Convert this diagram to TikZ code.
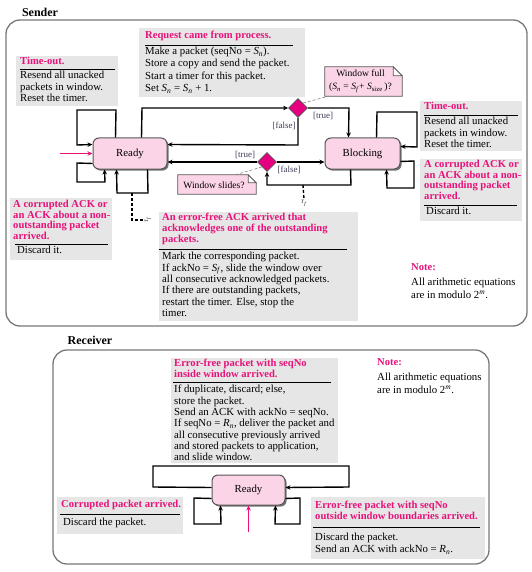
\documentclass[tikz,border=0pt]{standalone}
\usepackage{fontspec}
\setmainfont{Liberation Serif}
\usetikzlibrary{shapes.geometric,shadows,calc,arrows.meta}
\definecolor{ttl}{RGB}{232,18,122}
\definecolor{gbx}{RGB}{230,230,230}
\definecolor{stf}{RGB}{251,213,231}
\definecolor{dia}{RGB}{228,0,126}
\definecolor{bdr}{RGB}{85,85,85}
\definecolor{frm}{RGB}{120,120,120}
\definecolor{lbl}{RGB}{60,60,85}
\newcommand{\Sub}[2]{\textit{#1}\textsubscript{\textit{#2}}}
\begin{document}
\begin{tikzpicture}[x=1pt,y=-1pt,
  gbox/.style={fill=gbx, draw=none, inner sep=0pt, anchor=north west},
  ttlt/.style={text=ttl, font=\bfseries\fontsize{10.6}{#1}\selectfont, align=left, inner sep=0pt, anchor=north west},
  ttlt/.default=10.8,
  bodyt/.style={font=\fontsize{10.8}{#1}\selectfont, align=left, inner sep=0pt, anchor=north west},
  bodyt/.default=11.6,
  hr/.style={line width=0.9pt, black},
  stnode/.style={rectangle, rounded corners=6pt, fill=stf, draw=bdr, line width=1pt, inner sep=0pt,
     font=\fontsize{10.8}{12}\selectfont,
     drop shadow={shadow xshift=1.6pt, shadow yshift=-1.6pt, fill=black!55, opacity=1}},
  dec/.style={diamond, fill=dia, draw=bdr, line width=0.8pt, minimum width=19pt, minimum height=19pt, inner sep=0pt, aspect=1},
  tr/.style={line width=1.4pt, -{Stealth[length=5pt,width=4.5pt]}},
  ptr/.style={line width=1.5pt, draw=ttl, -{Stealth[length=5pt,width=4.5pt]}},
  lbltxt/.style={font=\fontsize{9}{10}\selectfont, text=lbl, inner sep=0pt},
  outerframe/.style={draw=frm, line width=1.3pt, rounded corners=14pt},
  notebx/.style={fill=stf, draw=bdr, line width=0.8pt},
  dotc/.style={densely dashed, draw=gray, line width=0.6pt},
  dsh/.style={line width=1.4pt, dash pattern=on 3pt off 2pt}
]
\useasboundingbox (0,0) rectangle (531,572);

% ---------------- Sender ----------------
\node[font=\bfseries\fontsize{12}{13}\selectfont, inner sep=0pt] (sendlbl) at (40,12) {Sender};
\draw[outerframe] (6,20) rectangle (527,326);

% gray boxes
\node[gbox, minimum width=102pt, minimum height=50pt] (tol) at (16,56) {};
\node[gbox, minimum width=166pt, minimum height=69pt] (req) at (139,28) {};
\node[gbox, minimum width=102pt, minimum height=50pt] (tor) at (420,101) {};
\node[gbox, minimum width=102pt, minimum height=62pt] (cor) at (420,159) {};
\node[gbox, minimum width=102pt, minimum height=62pt] (col) at (10,198) {};
\node[gbox, minimum width=199pt, minimum height=109pt] (efa) at (159,212) {};

% time-out left
\node[ttlt] (tolt) at (20,57) {Time-out.};
\draw[hr] (20,69) -- (115,69);
\node[bodyt=11.5] (tolb) at (20,71) {Resend all unacked\\packets in window.\\Reset the timer.};

% request
\node[ttlt] (reqt) at (145,31) {Request came from process.};
\draw[hr] (145,45) -- (293,45);
\node[bodyt=12.3] (reqb) at (145,47) {Make a packet (seqNo = \Sub{S}{n}).\\Store a copy and send the packet.\\Start a timer for this packet.\\Set \Sub{S}{n} = \Sub{S}{n} + 1.};

% time-out right
\node[ttlt] (tort) at (424,102) {Time-out.};
\draw[hr] (424,115) -- (518,115);
\node[bodyt=11.5] (torb) at (424,117) {Resend all unacked\\packets in window.\\Reset the timer.};

% corrupted right
\node[ttlt=10.7] (cort) at (424,160) {A corrupted ACK or\\an ACK about a non-\\outstanding packet\\arrived.};
\draw[hr] (424,205) -- (517,205);
\node[bodyt] (corb) at (426,207) {Discard it.};

% corrupted left
\node[ttlt=10.7] (colt) at (13,200) {A corrupted ACK or\\an ACK about a non-\\outstanding packet\\arrived.};
\draw[hr] (15,244) -- (108,244);
\node[bodyt] (colb) at (17,246) {Discard it.};

% error-free ack
\node[ttlt=11] (efat) at (162,213) {An error-free ACK arrived that\\acknowledges one of the outstanding\\packets.};
\draw[hr] (159,249) -- (347,249);
\node[bodyt=11.4] (efab) at (162,252) {Mark the corresponding packet.\\If ackNo = \Sub{S}{f}, slide the window over\\all consecutive acknowledged packets.\\If there are outstanding packets,\\restart the timer. Else, stop the\\timer.};

% note sender
\node[ttlt] (snt) at (411,263) {Note:};
\node[bodyt=13] (snb) at (411,278) {All arithmetic equations\\are in modulo 2\textsuperscript{\textit{m}}.};

% states
\node[stnode, minimum width=74pt, minimum height=31pt] (ready) at (130,153.5) {Ready};
\node[stnode, minimum width=75pt, minimum height=31pt] (blocking) at (362.5,153.5) {Blocking};
\node[dec] (d1) at (298,108) {};
\node[dec] (d2) at (267,162) {};

% notes with folded corner
\path (363.5,81.5) node[minimum width=77pt, minimum height=29pt, inner sep=0pt] (wf) {};
\draw[notebx] (wf.south west) -- (wf.north west) -- ($(wf.north east)+(-9,0)$) -- ($(wf.north east)+(0,9)$) -- (wf.south east) -- cycle;
\draw[notebx, fill=white] ($(wf.north east)+(-9,0)$) -- ($(wf.north east)+(-9,9)$) -- ($(wf.north east)+(0,9)$) -- cycle;
\node[font=\fontsize{9.6}{13}\selectfont, align=center, inner sep=0pt] (wft) at ($(wf.center)+(-3,0)$) {Window full\\(\Sub{S}{n} = \Sub{S}{f}+ \textit{S}\textsubscript{size}\,)?};

\path (217,184.5) node[minimum width=78pt, minimum height=19pt, inner sep=0pt] (ws) {};
\draw[notebx] (ws.south west) -- (ws.north west) -- ($(ws.north east)+(-8,0)$) -- ($(ws.north east)+(0,8)$) -- (ws.south east) -- cycle;
\draw[notebx, fill=white] ($(ws.north east)+(-8,0)$) -- ($(ws.north east)+(-8,8)$) -- ($(ws.north east)+(0,8)$) -- cycle;
\node[font=\fontsize{9.6}{11}\selectfont, inner sep=0pt] (wst) at ($(ws.center)+(-3,0.5)$) {Window slides?};

\draw[dotc] (d1.north east) -- ($(wf.south west)+(4,0)$);
\draw[dotc] (d2.south west) -- ($(ws.north east)+(-21,0)$);

% transitions sender
\draw[ptr] (60,153.5) -- (ready.west);
\draw[tr] ($(ready.north west)+(23,0)$) -- (116,110) -- (77,110) -- (77,145) -- ($(ready.north west)+(0,7)$);
\draw[tr] ($(ready.south west)+(0,-6)$) -- (77,163) -- (77,182) -- (105,182) -- ($(ready.south west)+(12,0)$);
\draw[tr] ($(ready.south west)+(55,0)$) -- (148,193) -- (117,193) -- ($(ready.south west)+(24,0)$);
\draw[tr] ($(ready.north west)+(49,0)$) -- (142,108) -- (d1.west);
\draw[tr] (d1.south) -- (298,145) -- ($(ready.north east)+(0,7)$);
\draw[tr] (d1.east) -- (349,108) -- ($(blocking.north west)+(24,0)$);
\draw[tr] (d2.west) -- ($(ready.south east)+(0,-7.5)$);
\draw[tr] (d2.east) -- ($(blocking.south west)+(0,-7.5)$);
\draw[tr] ($(blocking.south west)+(26,0)$) -- (351,185) -- (267,185) -- (d2.south);
\draw[tr] ($(blocking.north west)+(52,0)$) -- (377,112) -- (417,112) -- (417,147) -- ($(blocking.north east)+(0,9)$);
\draw[tr] ($(blocking.south east)+(0,-8)$) -- (414,161) -- (414,188) -- (387,188) -- ($(blocking.south west)+(62,0)$);

\node[lbltxt] (l1) at (323,116) {[true]};
\node[lbltxt] (l2) at (284,126) {[false]};
\node[lbltxt] (l3) at (245,155) {[true]};
\node[lbltxt] (l4) at (289,170) {[false]};

% dashed annotation links
\coordinate (la) at (132,193);
\node[font=\fontsize{5}{5}\selectfont, inner sep=0.3pt, rotate=90] (mk1) at (148,220) {\textit{T}\textsubscript{\textit{f}}};
\draw[dsh] (la) -- (132,220) -- (mk1.north);
\coordinate (lc) at (303,185);
\node[font=\fontsize{5}{5}\selectfont, inner sep=0.3pt] (mk2) at (304,203) {\textit{T}\textsubscript{\textit{f}}};
\draw[dsh] (lc) -- (mk2.north);

% ---------------- Receiver ----------------
\node[font=\bfseries\fontsize{12}{13}\selectfont, inner sep=0pt] (recvlbl) at (90,340) {Receiver};
\draw[outerframe] (53,350) rectangle (489,564);

\node[gbox, minimum width=167pt, minimum height=105pt] (rin) at (171,358) {};
\node[gbox, minimum width=126pt, minimum height=37pt] (rcp) at (57,497) {};
\node[gbox, minimum width=174pt, minimum height=62pt] (rout) at (311,497) {};

\node[ttlt=11] (rint) at (174,359) {Error-free packet with seqNo\\inside window arrived.};
\draw[hr] (173,382) -- (331,382);
\node[bodyt=11.3] (rinb) at (174,385) {If duplicate, discard; else,\\store the packet.\\Send an ACK with ackNo = seqNo.\\If seqNo = \Sub{R}{n}, deliver the packet and\\all consecutive previously arrived\\and stored packets to application,\\and slide window.};

\node[ttlt] (rnt) at (377,358) {Note:};
\node[bodyt=13] (rnb) at (377,373) {All arithmetic equations\\are in modulo 2\textsuperscript{\textit{m}}.};

\node[ttlt] (rcpt) at (61,500) {Corrupted packet arrived.};
\draw[hr] (60,514) -- (180,514);
\node[bodyt] (rcpb) at (63,518) {Discard the packet.};

\node[ttlt=10.5] (routt) at (315,501) {Error-free packet with seqNo\\outside window boundaries arrived.};
\draw[hr] (313,527) -- (480,527);
\node[bodyt=12] (routb) at (315,533) {Discard the packet.\\Send an ACK with ackNo = \Sub{R}{n}.};

\node[stnode, minimum width=73pt, minimum height=30pt] (rready) at (248.5,490) {Ready};

\draw[tr] ($(rready.south west)+(0,-18)$) -- (153,487) -- (153,466) -- (349,466) -- (349,487) -- ($(rready.south east)+(0,-18)$);
\draw[tr] ($(rready.south west)+(0,-7)$) -- (194,498) -- (194,524) -- (221,524) -- ($(rready.south west)+(9,0)$);
\draw[tr] ($(rready.south east)+(0,-7)$) -- (300,498) -- (300,524) -- (275,524) -- ($(rready.south east)+(-10,0)$);
\coordinate (rin0) at (248.5,532);
\draw[ptr] (rin0) -- (rready.south);

\end{tikzpicture}
\end{document}
